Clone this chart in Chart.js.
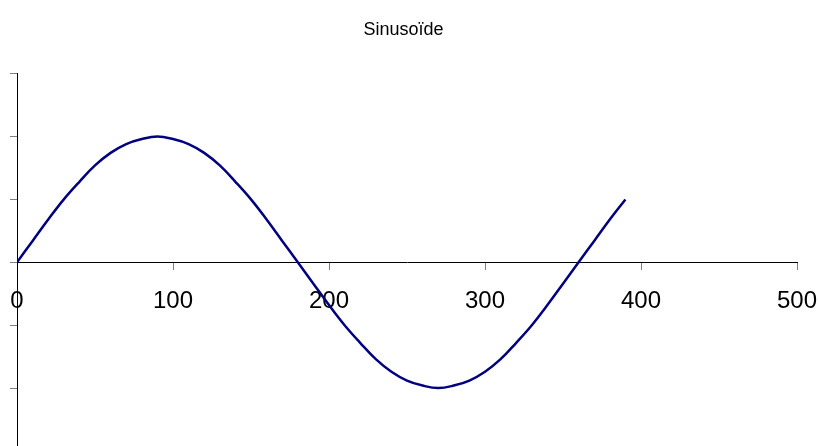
<!DOCTYPE html>
<html>
<head>
<meta charset="utf-8">
<script src="https://cdn.jsdelivr.net/npm/chart.js@4/dist/chart.umd.min.js"></script>
<style>
    html, body { margin: 0; padding: 0; background: #fff; overflow: hidden; }
    #wrap { width: 818px; height: 451px; }
</style>
</head>
<body>
<div id="wrap"><canvas id="sinus" width="818" height="451"></canvas></div>
<script>
// angles en degrés et valeurs
const angles = [0, 10, 20, 30, 40, 50, 60, 70, 80, 90,
    100, 110, 120, 130, 140, 150, 160, 170, 180, 190,
    200, 210, 220, 230, 240, 250, 260, 270, 280, 290,
    300, 310, 320, 330, 340, 350, 360, 370, 380, 390]
const values = [0, 0.17, 0.34, 0.5, 0.64, 0.77, 0.87, 0.94, 0.98, 1,
    0.98, 0.94, 0.87, 0.77, 0.64, 0.5, 0.34, 0.17, 0, -0.17,
    -0.34, -0.5, -0.64, -0.77, -0.87, -0.94, -0.98, -1, -0.98, -0.94,
    -0.87, -0.77, -0.64, -0.5, -0.34, -0.17, 0, 0.17, 0.34, 0.5]
const xTicks = [0, 100, 200, 300, 400, 500]
const title = "Sinusoïde"

const sinus = document.querySelector("#sinus")

function create_curve(ctx, xValues, yValues, label) {
    let points = xValues.map((x, i) => ({x: x, y: yValues[i]}))

    const config = {
        type: "line",
        data: {
            datasets: [{
                label: label,
                data: points,
                borderColor: "#000080",
                borderWidth: 2.5,
                pointRadius: 0,
                tension: 0.4,
                fill: false
            }]
        },
        options: {
            responsive: false,
            animation: false,
            layout: {padding: {left: 10, right: 21, top: 0, bottom: 0}},
            plugins: {
                legend: {display: false},
                tooltip: {enabled: false},
                title: {
                    display: true,
                    text: title,
                    color: "#000",
                    font: {family: "Liberation Sans, Arial", size: 18, weight: "normal"},
                    padding: {top: 19, bottom: 33}
                }
            },
            scales: {
                x: {
                    type: "linear",
                    position: {y: 0},
                    min: 0,
                    max: 500,
                    afterBuildTicks: (axis) => { axis.ticks = xTicks.map(v => ({value: v})) },
                    afterFit: (axis) => { axis.paddingLeft = 0; axis.paddingRight = 0 },
                    grid: {drawOnChartArea: false, drawTicks: true, tickLength: 7, color: "#808080"},
                    border: {display: true, color: "#000", width: 1},
                    ticks: {
                        color: "#000",
                        padding: 18,
                        maxRotation: 0,
                        font: {family: "Liberation Sans, Arial", size: 24}
                    }
                },
                y: {
                    type: "linear",
                    position: "left",
                    min: -1.5,
                    max: 1.5,
                    ticks: {display: false, stepSize: 0.5},
                    grid: {drawOnChartArea: false, drawTicks: true, tickLength: 7, color: "#808080"},
                    border: {display: true, color: "#000", width: 1}
                }
            }
        }
    }
    return new Chart(ctx, config)
}

create_curve(sinus, angles, values, "sin(x)")
</script>
</body>
</html>
